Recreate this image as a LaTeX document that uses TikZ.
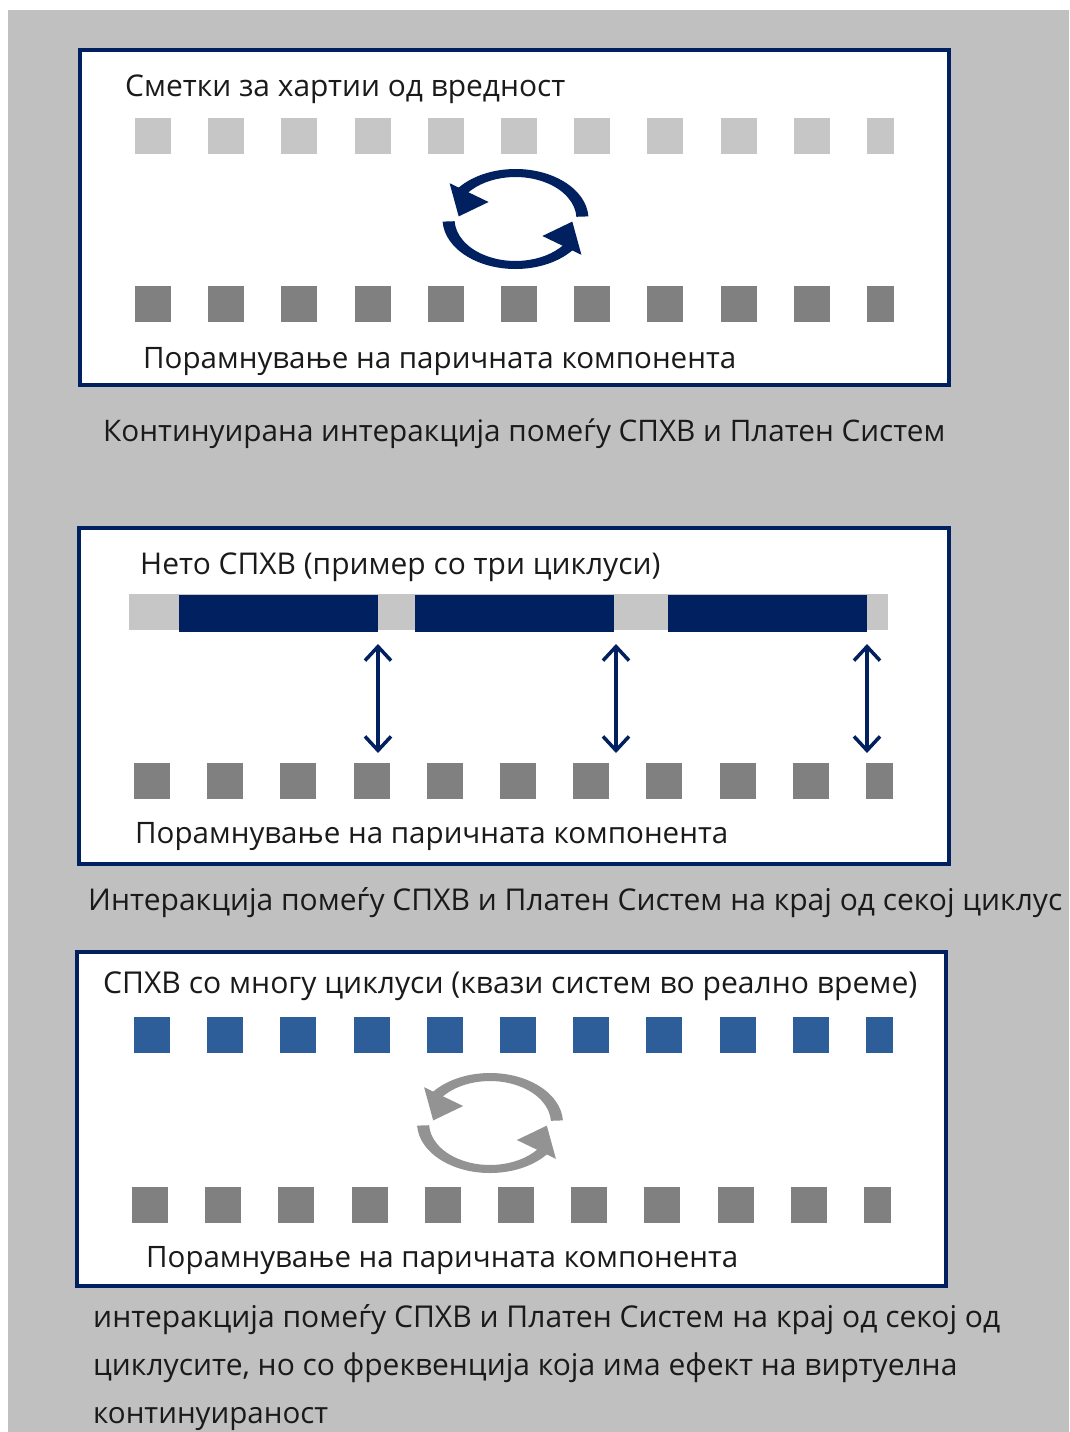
\documentclass[tikz,border=0pt]{standalone}
\usepackage{fontspec}
\usepackage{graphicx}
\setmainfont{Open Sans}
\usetikzlibrary{arrows.meta,calc}
\definecolor{navy}{HTML}{002060}
\definecolor{bgc}{HTML}{C0C0C0}
\definecolor{lightsq}{HTML}{C6C6C6}
\definecolor{darksq}{HTML}{808080}
\definecolor{bluesq}{HTML}{2E5E9A}
\definecolor{cyc}{HTML}{939393}
\definecolor{txtc}{HTML}{1A1A1A}
\newcommand\fitw[2]{\resizebox{#1pt}{!}{#2}}
\newcommand\sqrow[3]{%
  \foreach \i in {0,...,9} {\fill[#2] ({#3+73.2*\i},#1) rectangle +(36,36);}
  \fill[#2] ({#3+732},#1) rectangle +(27,36);}
% circular double arrow around a named centre
\newcommand\cycarrow[2]{%
  \fill[#2] (#1) ++(3:73pt and 50pt) arc[start angle=3,end angle=148,x radius=73pt,y radius=50pt]
     -- ($(#1)+(148:61pt and 42pt)$) arc[start angle=148,end angle=3,x radius=61pt,y radius=42pt] -- cycle;
  \fill[#2] ($(#1)+(-26.9,-17.0)$) -- ($(#1)+(-65.9,-35.8)$) -- ($(#1)+(-56.8,-2.6)$) -- cycle;
  \fill[#2] (#1) ++(183:73pt and 50pt) arc[start angle=183,end angle=328,x radius=73pt,y radius=50pt]
     -- ($(#1)+(328:61pt and 42pt)$) arc[start angle=328,end angle=183,x radius=61pt,y radius=42pt] -- cycle;
  \fill[#2] ($(#1)+(26.9,17.0)$) -- ($(#1)+(65.9,35.8)$) -- ($(#1)+(56.8,2.6)$) -- cycle;}
\tikzset{
  frame/.style={draw=navy, line width=4pt, fill=white},
  txt/.style={inner sep=0pt, anchor=base west, text=txtc},
  dbl/.style={navy, line width=3.5pt, {Straight Barb[length=14pt,width=26pt,line width=3.5pt]}-{Straight Barb[length=14pt,width=26pt,line width=3.5pt]}}
}
\begin{document}
\begin{tikzpicture}[x=1pt,y=-1pt]
\useasboundingbox (0,0) rectangle (1069,1432);
\fill[white] (0,0) rectangle (1069,1432);
\fill[bgc] (8,10) rectangle (1069,1432);

% ---------- Box 1
\draw[frame] (80,50) rectangle (949,385);
\node[txt] (t1) at (125,96) {\fitw{440}{Сметки за хартии од вредност}};
\sqrow{118}{lightsq}{135}
\sqrow{286}{darksq}{135}
\coordinate (c1) at (515.5,219);
\cycarrow{c1}{navy}
\node[txt] (b1) at (143,368) {\fitw{593}{Порамнување на паричната компонента}};
\node[txt] (cap1) at (103,441) {\fitw{842}{Континуирана интеракција помеѓу СПХВ и Платен Систем}};

% ---------- Box 2
\draw[frame] (79,528) rectangle (949,864);
\node[txt] (t2) at (140,574) {\fitw{520}{Нето СПХВ (пример со три циклуси)}};
\fill[lightsq] (129,594) rectangle (888,630);
\fill[navy] (179,595) rectangle (378,632);
\fill[navy] (415,595) rectangle (614,632);
\fill[navy] (668,595) rectangle (867,632);
\coordinate (a1t) at (378,644); \coordinate (a1b) at (378,753);
\coordinate (a2t) at (616,644); \coordinate (a2b) at (616,753);
\coordinate (a3t) at (867,644); \coordinate (a3b) at (867,753);
\draw[dbl] (a1t) -- (a1b);
\draw[dbl] (a2t) -- (a2b);
\draw[dbl] (a3t) -- (a3b);
\sqrow{763}{darksq}{134}
\node[txt] (b2) at (135,843) {\fitw{593}{Порамнување на паричната компонента}};
\node[txt] (cap2) at (88,910) {\fitw{974}{Интеракција помеѓу СПХВ и Платен Систем на крај од секој циклус}};

% ---------- Box 3
\draw[frame] (77,952) rectangle (946,1286);
\node[txt] (t3) at (103,993) {\fitw{814}{СПХВ со многу циклуси (квази систем во реално време)}};
\sqrow{1017}{bluesq}{134}
\coordinate (c3) at (490,1123);
\cycarrow{c3}{cyc}
\sqrow{1187}{darksq}{132}
\node[txt] (b3) at (146,1267) {\fitw{592}{Порамнување на паричната компонента}};
\node[txt] (cap3a) at (93,1327) {\fitw{907}{интеракција помеѓу СПХВ и Платен Систем на крај од секој од}};
\node[txt] (cap3b) at (93,1375) {\fitw{864}{циклусите, но со фреквенција која има ефект на виртуелна}};
\node[txt] (cap3c) at (93,1423) {\fitw{235}{континуираност}};
\end{tikzpicture}
\end{document}
